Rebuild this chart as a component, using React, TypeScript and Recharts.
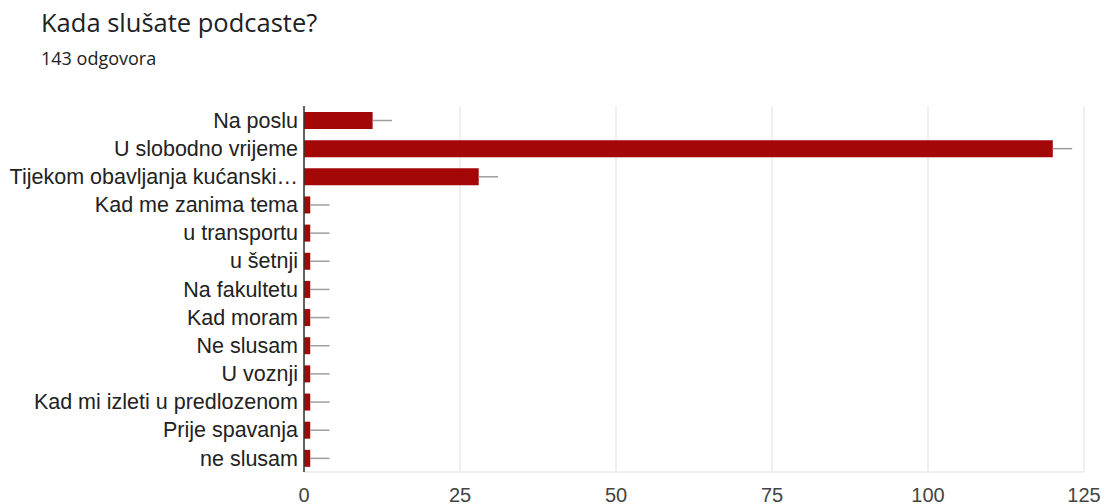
import React from "react";
import { BarChart, Bar, XAxis, YAxis, CartesianGrid, ErrorBar } from "recharts";

const categories = [
  "Na poslu",
  "U slobodno vrijeme",
  "Tijekom obavljanja kućanski…",
  "Kad me zanima tema",
  "u transportu",
  "u šetnji",
  "Na fakultetu",
  "Kad moram",
  "Ne slusam",
  "U voznji",
  "Kad mi izleti u predlozenom",
  "Prije spavanja",
  "ne slusam",
];
const counts = [11, 120, 28, 1, 1, 1, 1, 1, 1, 1, 1, 1, 1];
const whiskers = [3.1, 3.1, 3.1, 3.1, 3.1, 3.1, 3.1, 3.1, 3.1, 3.1, 3.1, 3.1, 3.1];
const xTicks = [0, 25, 50, 75, 100, 125];

const title = "Kada slušate podcaste?";
const subtitle = "143 odgovora";

const data = categories.map((name, i) => ({
  name,
  value: counts[i],
  err: [0, whiskers[i]],
}));

const HEAD_FONT = "'Open Sans', Roboto, sans-serif";
const CHART_FONT = "'Liberation Sans', Arial, sans-serif";

export default function App() {
  return (
    <div
      style={{
        position: "absolute",
        left: 0,
        top: 0,
        width: 1109,
        height: 504,
        background: "#fff",
        overflow: "hidden",
      }}
    >
      <div
        style={{
          position: "absolute",
          left: 41,
          top: 6,
          fontSize: 25.5,
          lineHeight: "32px",
          color: "#202124",
          fontFamily: HEAD_FONT,
          whiteSpace: "nowrap",
        }}
      >
        {title}
      </div>
      <div
        style={{
          position: "absolute",
          left: 41,
          top: 46,
          fontSize: 18,
          lineHeight: "24px",
          color: "#202124",
          fontFamily: HEAD_FONT,
          whiteSpace: "nowrap",
        }}
      >
        {subtitle}
      </div>
      <BarChart
        width={1109}
        height={504}
        data={data}
        layout="vertical"
        margin={{ top: 106, right: 25, bottom: 2, left: 0 }}
        style={{ position: "absolute", left: 0, top: 0 }}
      >
        <CartesianGrid horizontal={false} vertical={true} stroke="#ebebeb" strokeWidth={1.5} />
        <XAxis
          xAxisId="top"
          orientation="top"
          type="number"
          domain={[0, 125]}
          ticks={xTicks}
          tick={false}
          tickLine={false}
          height={0}
          axisLine={{ stroke: "#ebebeb", strokeWidth: 1.5 }}
        />
        <XAxis
          type="number"
          domain={[0, 125]}
          ticks={xTicks}
          tickLine={false}
          tickMargin={10}
          height={30}
          axisLine={{ stroke: "#ebebeb", strokeWidth: 1.5 }}
          tick={{ fill: "#444", fontSize: 20, fontFamily: CHART_FONT }}
          interval={0}
        />
        <YAxis
          type="category"
          dataKey="name"
          width={304}
          tickLine={false}
          tickMargin={0}
          axisLine={{ stroke: "#333", strokeWidth: 1.5 }}
          tick={{ fill: "#222", fontSize: 21.5, fontFamily: CHART_FONT }}
          interval={0}
        />
        <Bar dataKey="value" fill="#a30707" barSize={17} isAnimationActive={false}>
          <ErrorBar dataKey="err" direction="x" width={0} stroke="#9e9e9e" strokeWidth={1.5} />
        </Bar>
      </BarChart>
    </div>
  );
}
